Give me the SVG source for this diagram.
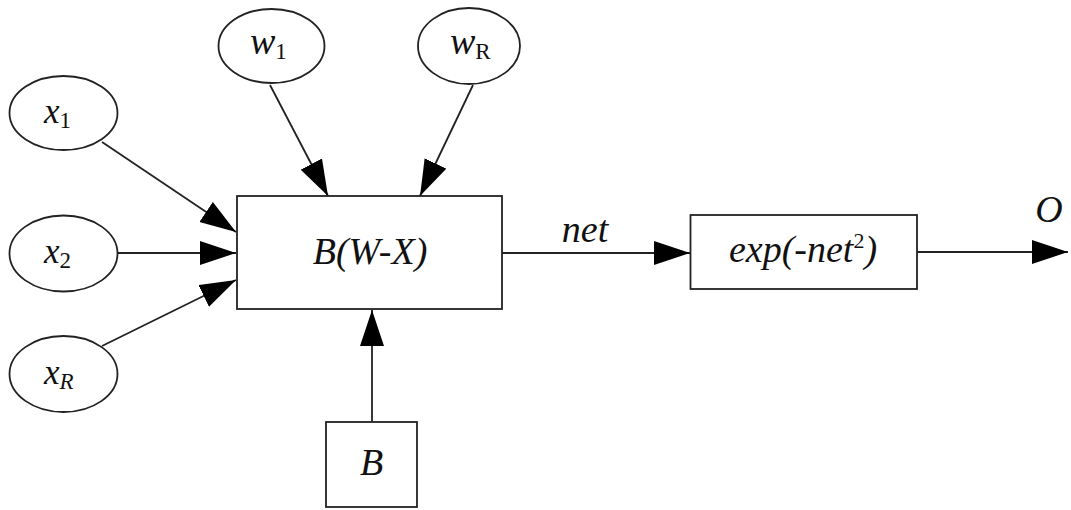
<svg xmlns="http://www.w3.org/2000/svg" width="1071" height="510" viewBox="0 0 1071 510">
<style>
.shape{fill:#fff;stroke:#222;stroke-width:1.8}
.conn{stroke:#222;stroke-width:1.8;fill:none}
</style>
<defs>
<marker id="ah" markerUnits="userSpaceOnUse" markerWidth="38" markerHeight="25" refX="36" refY="12" orient="auto" viewBox="0 0 38 24">
<path d="M0,0 L36,12 L0,24 Z" fill="#000"/>
</marker>
</defs>
<g font-family="Liberation Serif, serif" font-style="italic" font-size="38" fill="#111">
<g id="connectors">
<line class="conn" x1="102" y1="142" x2="236" y2="232" marker-end="url(#ah)"/>
<line class="conn" x1="118" y1="253" x2="236" y2="253" marker-end="url(#ah)"/>
<line class="conn" x1="102" y1="346" x2="236" y2="280" marker-end="url(#ah)"/>
<line class="conn" x1="270" y1="85" x2="328" y2="196" marker-end="url(#ah)"/>
<line class="conn" x1="473" y1="85" x2="420" y2="196" marker-end="url(#ah)"/>
<line class="conn" x1="372" y1="422" x2="372" y2="310" marker-end="url(#ah)"/>
<line class="conn" x1="502" y1="253" x2="690" y2="253" marker-end="url(#ah)"/>
<line class="conn" x1="917" y1="252" x2="1068" y2="252" marker-end="url(#ah)"/>
<text x="585" y="242" text-anchor="middle">net</text>
<text x="1049" y="222" text-anchor="middle">O</text>
</g>
<g id="x1">
<ellipse class="shape" cx="63.5" cy="113" rx="54" ry="37"/>
<text x="44" y="123" font-size="35">x<tspan font-style="normal" font-size="23" dy="5">1</tspan></text>
</g>
<g id="x2">
<ellipse class="shape" cx="63.5" cy="253.5" rx="54" ry="38"/>
<text x="44" y="263" font-size="35">x<tspan font-style="normal" font-size="23" dy="5">2</tspan></text>
</g>
<g id="xR">
<ellipse class="shape" cx="63.5" cy="374" rx="54" ry="38"/>
<text x="44" y="384" font-size="35">x<tspan font-size="23" dy="5">R</tspan></text>
</g>
<g id="w1">
<ellipse class="shape" cx="271.5" cy="46" rx="53" ry="37"/>
<text x="250" y="54" font-size="38">w<tspan font-style="normal" font-size="23" dy="5">1</tspan></text>
</g>
<g id="wR">
<ellipse class="shape" cx="469" cy="46" rx="51" ry="38"/>
<text x="450" y="54" font-size="38">w<tspan font-style="normal" font-size="23" dy="5">R</tspan></text>
</g>
<g id="main">
<rect class="shape" x="237" y="196" width="265" height="113"/>
<text x="370" y="264" text-anchor="middle">B(W-X)</text>
</g>
<g id="bias">
<rect class="shape" x="326" y="422" width="91" height="85"/>
<text x="371.5" y="475" text-anchor="middle">B</text>
</g>
<g id="exp">
<rect class="shape" x="690.5" y="215" width="226.5" height="74"/>
<text x="803" y="262" text-anchor="middle">exp(-net<tspan font-style="normal" font-size="22" dy="-14">2</tspan><tspan dy="14">)</tspan></text>
</g>
</g>
</svg>
